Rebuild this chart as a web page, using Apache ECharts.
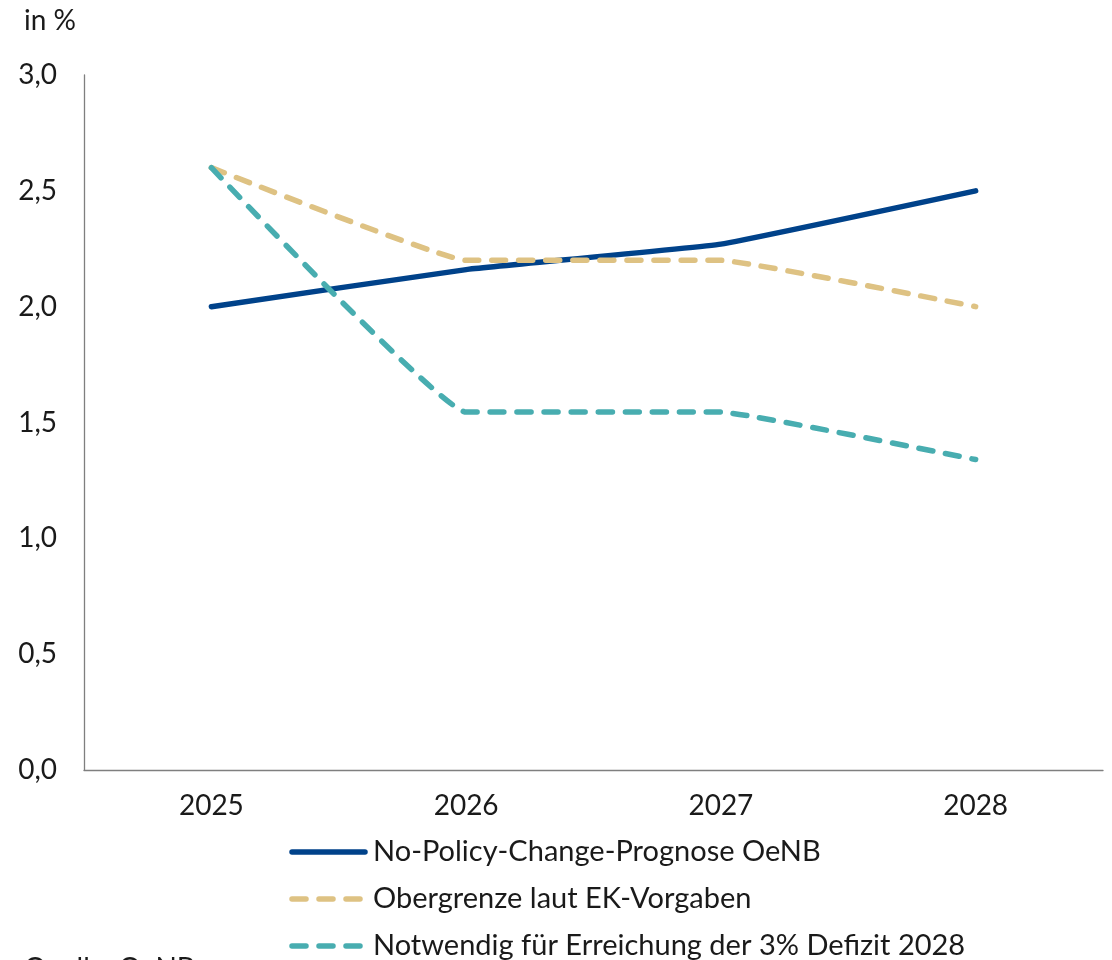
<!DOCTYPE html>
<html>
<head>
<meta charset="utf-8">
<script src="https://cdn.jsdelivr.net/npm/echarts@6/dist/echarts.min.js"></script>
<style>
html,body{margin:0;padding:0;background:#fff;}
#chart{width:1112px;height:960px;}
</style>
</head>
<body>
<div id="chart"></div>
<script>
// Jahre und Reihen (in %)
const years = ['2025', '2026', '2027', '2028'];
const noPolicyChange = [2.0, 2.16, 2.27, 2.5];
const obergrenzeEK = [2.6, 2.2, 2.2, 2.0];
const notwendig3Prozent = [2.6, 1.545, 1.545, 1.34];
const seriesNames = [
  'No-Policy-Change-Prognose OeNB',
  'Obergrenze laut EK-Vorgaben',
  'Notwendig für Erreichung der 3% Defizit 2028'
];
const seriesColors = ['#00428a', '#dec283', '#48adb0'];
const seriesDashed = [false, true, true];

const FONT = 'Lato, "Noto Sans", sans-serif';
const DASH = [14, 13];
const LINE_W = 5.5;
const chart = echarts.init(document.getElementById('chart'));

function lineSeries(i, data) {
  return {
    name: seriesNames[i],
    type: 'line',
    data: data,
    symbol: 'none',
    smooth: 0.08,
    lineStyle: {
      color: seriesColors[i],
      width: LINE_W,
      type: seriesDashed[i] ? DASH : 'solid',
      cap: 'round',
      join: 'round'
    },
    itemStyle: { color: seriesColors[i] }
  };
}

// Legende als eigene Grafik: Linienmuster + Beschriftung, untereinander
const legendX = 292, legendY0 = 852, legendStep = 47;
const legendGraphics = [];
seriesNames.forEach((name, i) => {
  const y = legendY0 + i * legendStep;
  legendGraphics.push({
    type: 'line',
    shape: { x1: legendX, y1: y, x2: legendX + 73, y2: y },
    style: {
      stroke: seriesColors[i], lineWidth: LINE_W, lineCap: 'round',
      lineDash: seriesDashed[i] ? DASH : null
    }
  });
  legendGraphics.push({
    type: 'text',
    x: 373, y: y,
    style: { text: name, font: '29px ' + FONT, fill: '#1a1a1a', textVerticalAlign: 'middle', verticalAlign: 'middle' }
  });
});
legendGraphics.push({
  type: 'text',
  x: 24, y: 955,
  style: { text: 'Quelle: OeNB', font: '28px ' + FONT, fill: '#1a1a1a' }
});

chart.setOption({
  animation: false,
  backgroundColor: '#ffffff',
  textStyle: { fontFamily: FONT },
  grid: { left: 84, right: 9, top: 75, bottom: 190, containLabel: false },
  xAxis: {
    type: 'category',
    data: years,
    boundaryGap: true,
    axisLine: { lineStyle: { color: '#7f7f7f', width: 1.3 } },
    axisTick: { show: false },
    axisLabel: { color: '#1a1a1a', fontSize: 28, fontFamily: FONT, margin: 22 }
  },
  yAxis: {
    type: 'value',
    min: 0,
    max: 3,
    interval: 0.5,
    name: 'in %',
    nameLocation: 'end',
    nameGap: 40,
    nameTextStyle: { color: '#1a1a1a', fontSize: 28, fontFamily: FONT, align: 'left', padding: [0, 0, 0, -60] },
    axisLine: { show: true, lineStyle: { color: '#7f7f7f', width: 1.3 } },
    axisTick: { show: false },
    splitLine: { show: false },
    axisLabel: {
      color: '#1a1a1a', fontSize: 28, fontFamily: FONT, margin: 27,
      formatter: v => v.toFixed(1).replace('.', ',')
    }
  },
  series: [
    lineSeries(0, noPolicyChange),
    lineSeries(1, obergrenzeEK),
    lineSeries(2, notwendig3Prozent)
  ],
  graphic: legendGraphics
});
</script>
</body>
</html>
